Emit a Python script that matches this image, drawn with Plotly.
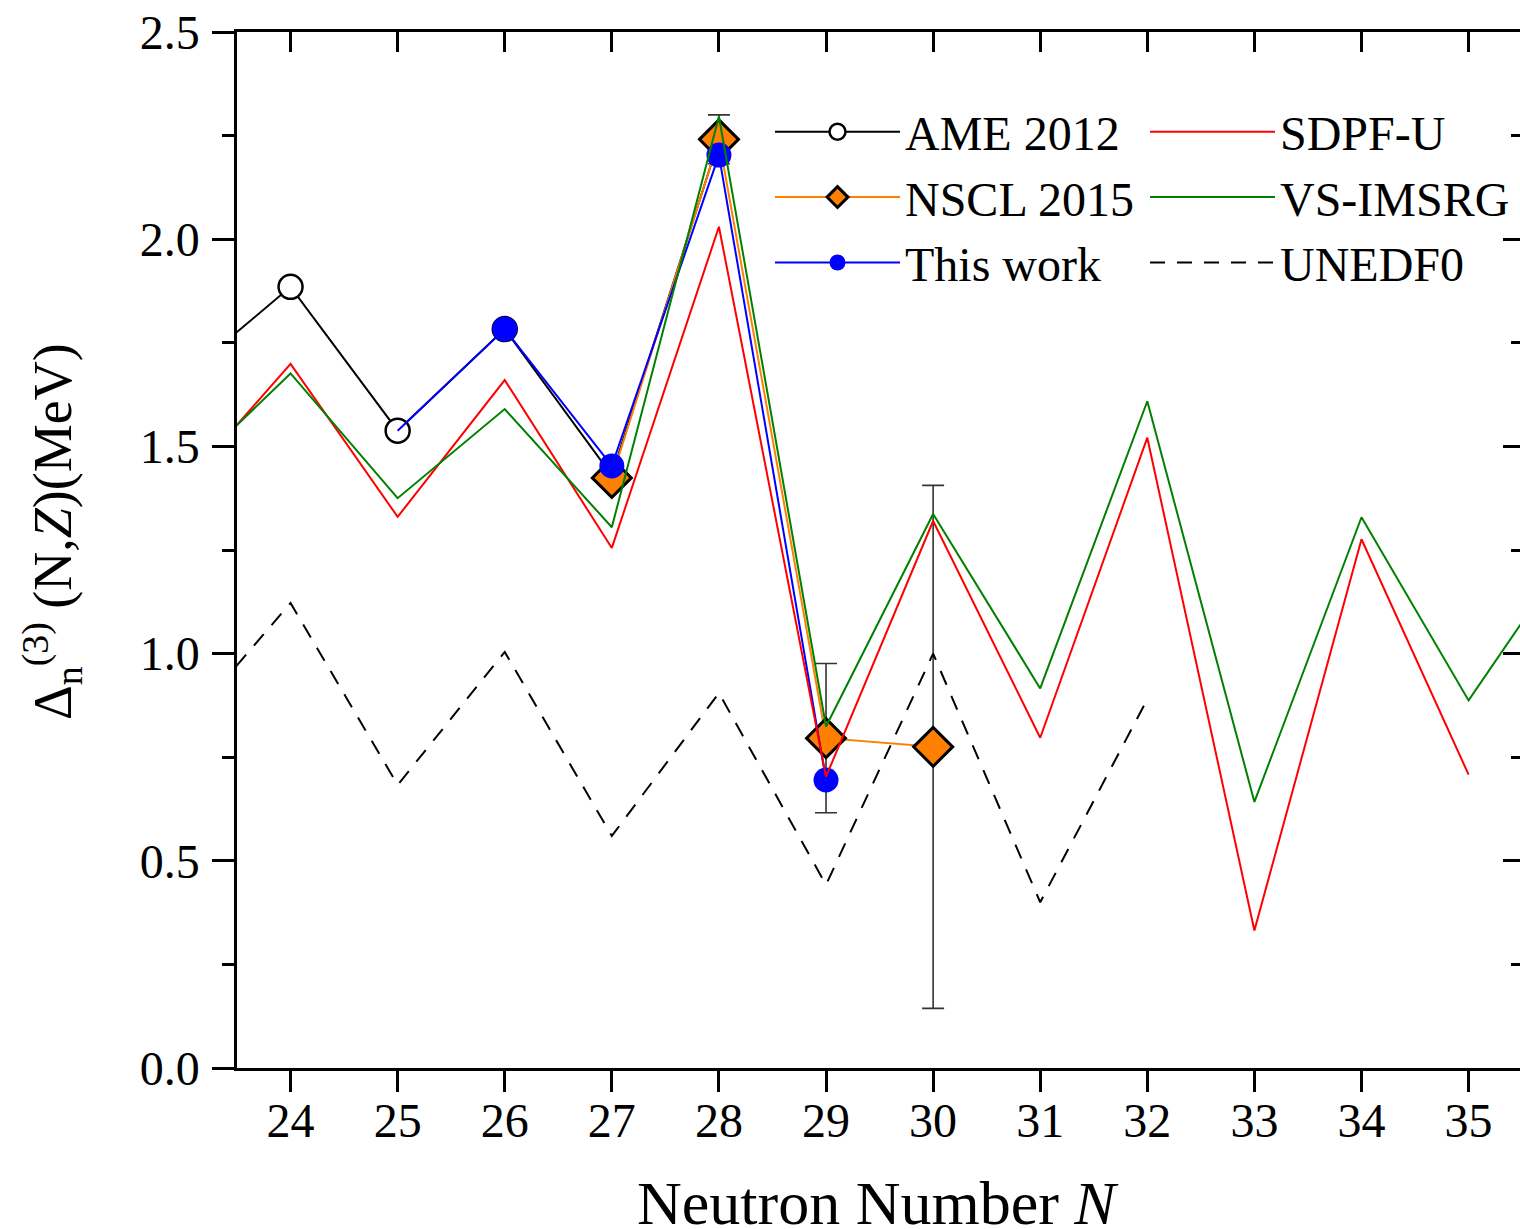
import plotly.graph_objects as go

# ---------------- data ----------------
N_AME = [23, 24, 25, 26, 27, 28]
AME = [1.667, 1.885, 1.538, 1.783, 1.430, 2.240]

N_NSCL = [27, 28, 29, 30]
NSCL = [1.424, 2.241, 0.796, 0.775]
NSCL_ERR = [0.012, 0.059, 0.180, 0.631]

N_WORK = [25, 26, 27, 28, 29]
WORK = [1.538, 1.783, 1.453, 2.203, 0.695]

N_SDPF = [23, 24, 25, 26, 27, 28, 29, 30, 31, 32, 33, 34, 35]
SDPF = [1.405, 1.699, 1.330, 1.660, 1.255, 2.030, 0.703, 1.320, 0.797, 1.521, 0.332, 1.276, 0.708]

N_IMSRG = [23, 24, 25, 26, 27, 28, 29, 30, 31, 32, 33, 34, 35, 36]
IMSRG = [1.427, 1.676, 1.375, 1.590, 1.305, 2.296, 0.824, 1.337, 0.916, 1.609, 0.642, 1.329, 0.887, 1.265]

N_UNEDF = [23, 24, 25, 26, 27, 28, 29, 30, 31, 32]
UNEDF = [0.822, 1.122, 0.683, 1.004, 0.560, 0.905, 0.442, 1.000, 0.400, 0.890]

X_TICKS = list(range(24, 36))
Y_TICKS = [0.0, 0.5, 1.0, 1.5, 2.0, 2.5]
Y_TICKTEXT = ["0.0", "0.5", "1.0", "1.5", "2.0", "2.5"]

X_TITLE = "Neutron Number <i>N</i>"
Y_TITLE = "Δ<sub>n</sub><sup>(3)</sup> (N,<i>Z</i>)(MeV)"

FONT = "Liberation Serif"

fig = go.Figure()

fig.add_trace(go.Scatter(
    x=N_AME, y=AME, mode="lines+markers", name="AME 2012", legend="legend",
    line=dict(color="black", width=2),
    marker=dict(symbol="circle", size=24, color="white", opacity=1,
                line=dict(color="black", width=2.5)),
))
fig.add_trace(go.Scatter(
    x=N_NSCL, y=NSCL, mode="lines+markers", name="NSCL 2015", legend="legend",
    line=dict(color="#ff8000", width=2),
    marker=dict(symbol="diamond", size=30, color="#ff8000", opacity=1,
                line=dict(color="black", width=3)),
    error_y=dict(type="data", array=NSCL_ERR, visible=True, color="#333333", thickness=1.6, width=11),
))
fig.add_trace(go.Scatter(
    x=N_WORK, y=WORK, mode="lines+markers", name="This work", legend="legend",
    line=dict(color="#0000ff", width=2),
    marker=dict(symbol="circle", size=[0, 25, 25, 25, 25], color="#0000ff", opacity=1,
                line=dict(width=0)),
))
fig.add_trace(go.Scatter(
    x=N_SDPF, y=SDPF, mode="lines", name="SDPF-U", legend="legend2",
    line=dict(color="#ff0000", width=2),
))
fig.add_trace(go.Scatter(
    x=N_IMSRG, y=IMSRG, mode="lines", name="VS-IMSRG", legend="legend2",
    line=dict(color="#008000", width=2),
))
fig.add_trace(go.Scatter(
    x=N_UNEDF, y=UNEDF, mode="lines", name="UNEDF0", legend="legend2",
    line=dict(color="black", width=2, dash="15px,12px"),
))
# empty trace so that the mirrored (top / right) axes get drawn
fig.add_trace(go.Scatter(x=[], y=[], xaxis="x2", yaxis="y2", showlegend=False, hoverinfo="skip"))

axis_common = dict(showgrid=False, zeroline=False, linecolor="black", linewidth=2.5,
                   tickcolor="black", tickwidth=2.5)

fig.update_layout(
    width=1520, height=1229,
    paper_bgcolor="white", plot_bgcolor="white",
    margin=dict(l=237, r=0, t=32, b=161, autoexpand=False),
    font=dict(family=FONT, color="black"),
    xaxis=dict(
        range=[23.5, 35.48], tickmode="array", tickvals=X_TICKS,
        ticks="outside", ticklen=21, showline=True,
        tickfont=dict(size=48, family=FONT), ticklabelstandoff=-12,
        **axis_common,
    ),
    yaxis=dict(
        range=[0, 2.5], tickmode="array", tickvals=Y_TICKS, ticktext=Y_TICKTEXT,
        ticks="outside", ticklen=22, showline=True,
        minor=dict(dtick=0.25, ticks="outside", ticklen=12, tickwidth=2.5, tickcolor="black"),
        tickfont=dict(size=48, family=FONT), ticklabelstandoff=3,
        **axis_common,
    ),
    xaxis2=dict(
        overlaying="x", matches="x", side="top", anchor="y2",
        range=[23.5, 35.48], tickmode="array", tickvals=X_TICKS,
        ticks="inside", ticklen=20, showline=True, showticklabels=False,
        **axis_common,
    ),
    yaxis2=dict(
        overlaying="y", matches="y", side="right", anchor="x2",
        range=[0, 2.5], tickmode="array", tickvals=Y_TICKS,
        ticks="inside", ticklen=17, showline=False, showticklabels=False,
        minor=dict(dtick=0.25, ticks="inside", ticklen=9, tickwidth=2.5, tickcolor="black"),
        **axis_common,
    ),
    legend=dict(
        x=(770 - 237) / 1283, y=(1068 - 94) / 1036, xanchor="left", yanchor="top",
        font=dict(size=48, family=FONT), bgcolor="rgba(0,0,0,0)", borderwidth=0,
        itemwidth=125, tracegroupgap=0,
    ),
    legend2=dict(
        x=(1145 - 237) / 1283, y=(1068 - 94) / 1036, xanchor="left", yanchor="top",
        font=dict(size=48, family=FONT), bgcolor="rgba(0,0,0,0)", borderwidth=0,
        itemwidth=125, tracegroupgap=0,
    ),
    annotations=[
        dict(
            text=Y_TITLE,
            xref="paper", yref="paper", x=(52 - 237) / 1283, y=(1068 - 532) / 1036,
            xanchor="center", yanchor="middle", textangle=-90, showarrow=False,
            font=dict(size=54, family=FONT, color="black"),
        ),
        dict(
            text=X_TITLE,
            xref="paper", yref="paper", x=(878 - 237) / 1283, y=(1068 - 1203) / 1036,
            xanchor="center", yanchor="middle", showarrow=False,
            font=dict(size=62, family=FONT, color="black"),
        ),
    ],
)

fig.write_html("out.html")
